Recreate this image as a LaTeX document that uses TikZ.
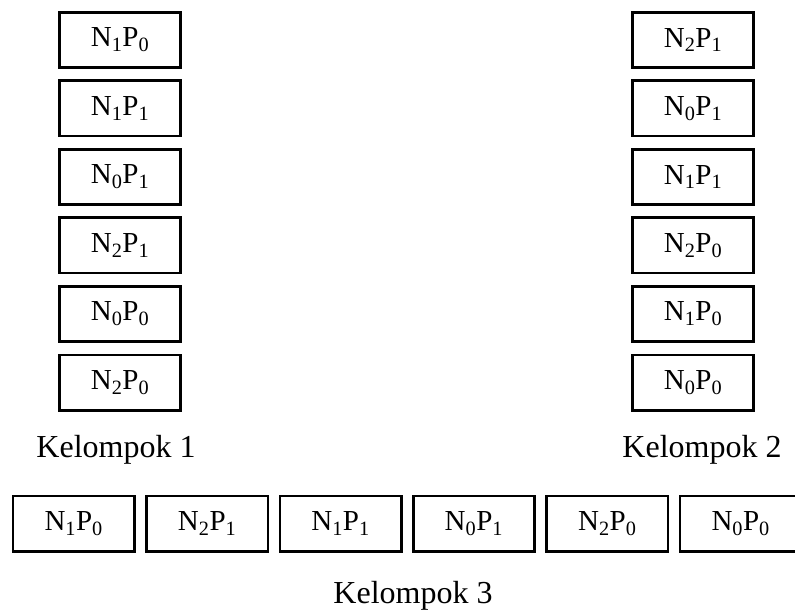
\documentclass[tikz,border=0pt]{standalone}
\usepackage{fontspec}
\setmainfont{Liberation Serif}
\newcommand{\np}[2]{N\textsubscript{#1}P\textsubscript{#2}}
\begin{document}
\begin{tikzpicture}[x=1pt,y=-1pt,
  cell/.style={draw, line width=2.6pt, minimum width=121.4pt, minimum height=55.4pt,
    inner sep=0pt, font=\fontsize{29}{34}\selectfont},
  grouplabel/.style={anchor=base, inner sep=0pt, font=\fontsize{32}{38}\selectfont}]
  \useasboundingbox (0,0) rectangle (795,612);
  \clip (0,0) rectangle (795,612);

  % Kelompok 1 (left column)
  \foreach \lab [count=\i from 0] in {{\np10},{\np11},{\np01},{\np21},{\np00},{\np20}}
    \node[cell] (a\i) at (120,{40+68.5*\i}) {\lab};
  % Kelompok 2 (right column)
  \foreach \lab [count=\i from 0] in {{\np21},{\np01},{\np11},{\np20},{\np10},{\np00}}
    \node[cell] (b\i) at (693,{40+68.5*\i}) {\lab};
  % Kelompok 3 (bottom row)
  \foreach \lab [count=\i from 0] in {{\np10},{\np21},{\np11},{\np01},{\np20},{\np00}}
    \node[cell] (c\i) at ({73.7+133.4*\i},523.5) {\lab};

  \node[grouplabel] (k1) at (116,457) {Kelompok 1};
  \node[grouplabel] (k2) at (702,457) {Kelompok 2};
  \node[grouplabel] (k3) at (413,603) {Kelompok 3};
\end{tikzpicture}
\end{document}
